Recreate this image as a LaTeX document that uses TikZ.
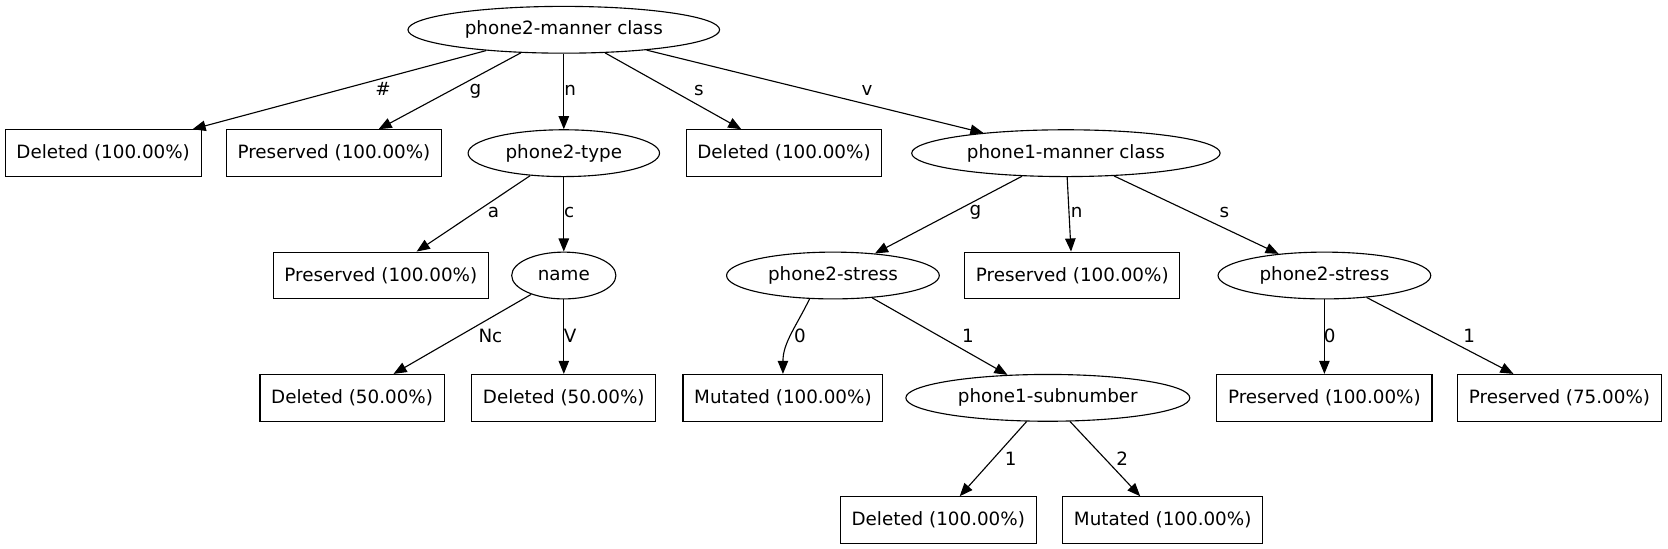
\documentclass[tikz,border=0pt]{standalone}
\usepackage{fontspec}
\setmainfont{DejaVu Sans}
\usetikzlibrary{shapes.geometric, arrows.meta}
\usepackage{xcolor}
\definecolor{treeline}{RGB}{0,0,0}
\newcommand{\treefont}{\fontsize{9.8}{11}\selectfont}
\tikzset{
    leaf/.style={rectangle, draw=treeline, line width=0.6pt, inner xsep=6pt,
        minimum height=0.88cm, font=\treefont},
    split/.style={ellipse, draw=treeline, line width=0.6pt, inner sep=0pt,
        minimum height=0.88cm, font=\treefont},
    elabel/.style={inner sep=0pt, font=\treefont},
    arrow/.style={-{Triangle[length=7pt, width=5.6pt]}, line width=0.6pt}
}

\begin{document}
\begin{tikzpicture}[x=0.02cm, y=-0.02cm]

    \useasboundingbox (0,0) rectangle (1568,516);

    % Root split
    \node[split, minimum width=5.86cm] (root) at (530,28) {phone2-manner class};

    % Level 1
    \node[leaf] (del1) at (97,144) {Deleted (100.00\%)};
    \node[leaf] (pres1) at (314,144) {Preserved (100.00\%)};
    \node[split, minimum width=3.6cm] (ptype) at (530,144) {phone2-type};
    \node[leaf] (del2) at (737,144) {Deleted (100.00\%)};
    \node[split, minimum width=5.8cm] (pmanner) at (1002,144) {phone1-manner class};

    % Level 2
    \node[leaf] (pres2) at (358,259) {Preserved (100.00\%)};
    \node[split, minimum width=1.96cm] (name) at (530,259) {name};
    \node[split, minimum width=4cm] (stressA) at (783,259) {phone2-stress};
    \node[leaf] (pres3) at (1008,259) {Preserved (100.00\%)};
    \node[split, minimum width=4cm] (stressB) at (1245,259) {phone2-stress};

    % Level 3
    \node[leaf] (del3) at (331,374) {Deleted (50.00\%)};
    \node[leaf] (del4) at (530,374) {Deleted (50.00\%)};
    \node[leaf] (mut1) at (736,374) {Mutated (100.00\%)};
    \node[split, minimum width=5.34cm] (subnum) at (985,374) {phone1-subnumber};
    \node[leaf] (pres4) at (1245,374) {Preserved (100.00\%)};
    \node[leaf] (pres5) at (1466,374) {Preserved (75.00\%)};

    % Level 4
    \node[leaf] (del5) at (882,489) {Deleted (100.00\%)};
    \node[leaf] (mut2) at (1093,489) {Mutated (100.00\%)};

    % Edges
    \draw[arrow] (root) -- (del1);
    \draw[arrow] (root) -- (pres1);
    \draw[arrow] (root) -- (ptype);
    \draw[arrow] (root) -- (del2);
    \draw[arrow] (root) -- (pmanner);
    \draw[arrow] (ptype) -- (pres2);
    \draw[arrow] (ptype) -- (name);
    \draw[arrow] (pmanner) -- (stressA);
    \draw[arrow] (pmanner) -- (pres3);
    \draw[arrow] (pmanner) -- (stressB);
    \draw[arrow] (name) -- (del3);
    \draw[arrow] (name) -- (del4);
    \draw[arrow] (stressA.225) to[out=244, in=90] (mut1);
    \draw[arrow] (stressA) -- (subnum);
    \draw[arrow] (stressB) -- (pres4);
    \draw[arrow] (stressB) -- (pres5);
    \draw[arrow] (subnum) -- (del5);
    \draw[arrow] (subnum) -- (mut2);

    % Edge labels
    \node[elabel] (lhash) at (360,84) {\#};
    \node[elabel] (lg1) at (447,86) {g};
    \node[elabel] (ln1) at (536,85) {n};
    \node[elabel] (ls1) at (657,85) {s};
    \node[elabel] (lv1) at (815,85) {v};
    \node[elabel] (la) at (464,200) {a};
    \node[elabel] (lc) at (535,200) {c};
    \node[elabel] (lg2) at (917,200) {g};
    \node[elabel] (ln2) at (1012,200) {n};
    \node[elabel] (ls2) at (1151,200) {s};
    \node[elabel] (lnc) at (461,316) {Nc};
    \node[elabel] (lvv) at (536,316) {V};
    \node[elabel] (l0a) at (752,316) {0};
    \node[elabel] (l1a) at (910,316) {1};
    \node[elabel] (l0b) at (1250,316) {0};
    \node[elabel] (l1b) at (1381,316) {1};
    \node[elabel] (l1c) at (950,431) {1};
    \node[elabel] (l2c) at (1055,431) {2};

\end{tikzpicture}
\end{document}
